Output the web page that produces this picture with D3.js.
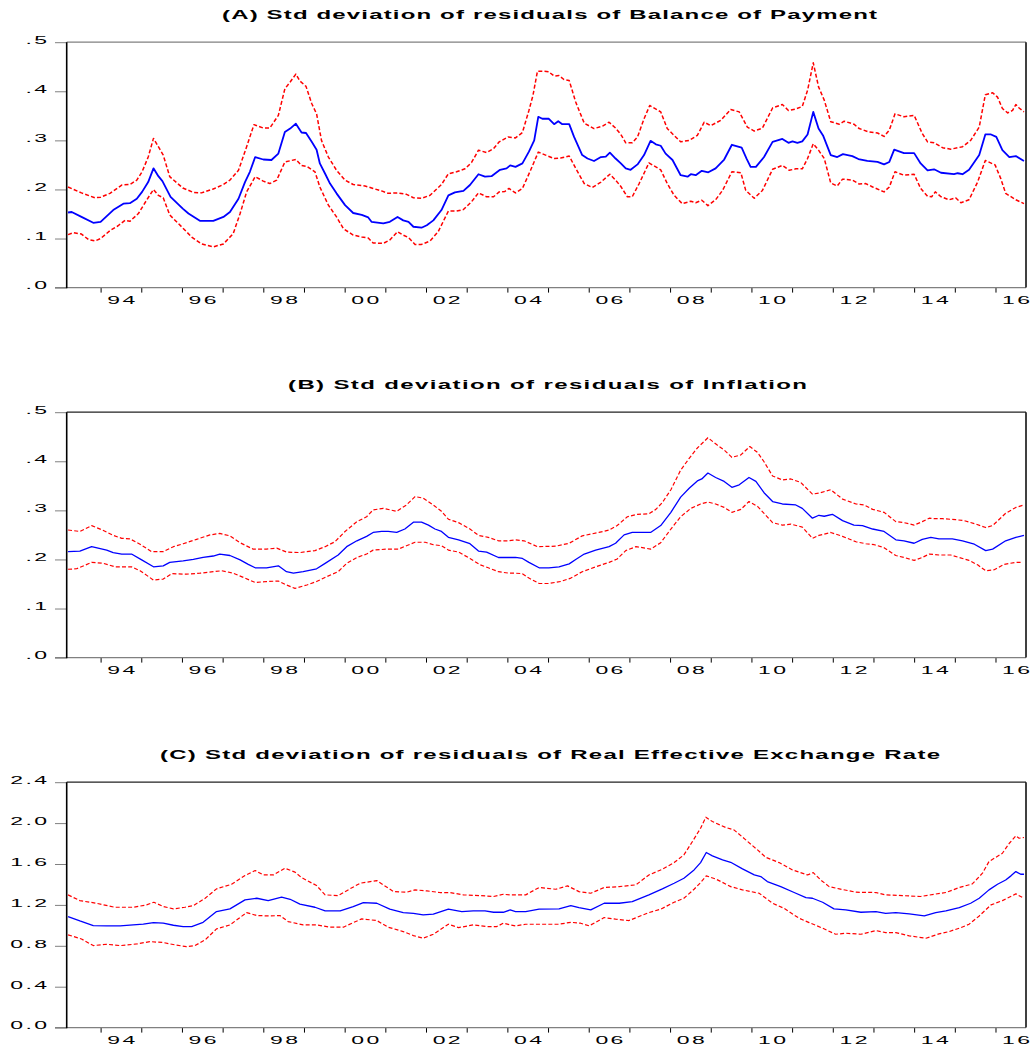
<!DOCTYPE html>
<html>
<head>
<meta charset="utf-8">
<script src="https://cdn.jsdelivr.net/npm/d3@7"></script>
<style>
  html, body { margin: 0; padding: 0; background: #fff; }
  svg { display: block; }
</style>
</head>
<body>
<svg id="chart" width="1031" height="1046"></svg>
<script>
// Monthly sample 1993M03 - 2016M09, observations as [decimal year, value]

// (A) Balance of Payment
const bopMid = [[1993.20,0.153],[1993.29,0.154],[1993.53,0.144],[1993.82,0.132],[1994.00,0.134],[1994.31,0.158],[1994.56,0.171],[1994.72,0.172],[1994.89,0.181],[1995.02,0.195],[1995.17,0.215],[1995.30,0.243],[1995.42,0.227],[1995.52,0.217],[1995.72,0.185],[1996.02,0.161],[1996.16,0.151],[1996.44,0.136],[1996.77,0.136],[1997.02,0.144],[1997.18,0.154],[1997.39,0.181],[1997.55,0.215],[1997.67,0.236],[1997.80,0.266],[1998.00,0.261],[1998.20,0.260],[1998.37,0.273],[1998.53,0.317],[1998.66,0.324],[1998.80,0.334],[1998.94,0.316],[1999.05,0.315],[1999.19,0.297],[1999.31,0.281],[1999.39,0.253],[1999.52,0.232],[1999.64,0.212],[1999.80,0.192],[2000.01,0.168],[2000.21,0.152],[2000.42,0.148],[2000.58,0.143],[2000.66,0.134],[2000.95,0.131],[2001.11,0.134],[2001.30,0.144],[2001.44,0.137],[2001.57,0.134],[2001.69,0.124],[2001.89,0.122],[2002.02,0.127],[2002.18,0.137],[2002.38,0.158],[2002.55,0.188],[2002.71,0.194],[2002.92,0.197],[2003.08,0.209],[2003.29,0.231],[2003.45,0.226],[2003.61,0.227],[2003.82,0.240],[2003.98,0.243],[2004.07,0.249],[2004.20,0.246],[2004.37,0.253],[2004.53,0.277],[2004.66,0.300],[2004.76,0.348],[2004.86,0.344],[2005.02,0.344],[2005.15,0.333],[2005.25,0.339],[2005.35,0.333],[2005.52,0.333],[2005.64,0.307],[2005.84,0.270],[2005.97,0.263],[2006.13,0.258],[2006.30,0.266],[2006.42,0.267],[2006.52,0.275],[2006.66,0.263],[2006.79,0.253],[2006.91,0.243],[2007.03,0.240],[2007.20,0.251],[2007.36,0.270],[2007.52,0.299],[2007.65,0.292],[2007.77,0.289],[2007.89,0.273],[2008.06,0.260],[2008.26,0.229],[2008.43,0.226],[2008.51,0.231],[2008.63,0.229],[2008.78,0.238],[2008.94,0.235],[2009.12,0.243],[2009.33,0.261],[2009.52,0.291],[2009.76,0.285],[2009.88,0.263],[2009.98,0.246],[2010.11,0.246],[2010.31,0.266],[2010.52,0.297],[2010.76,0.303],[2010.91,0.295],[2011.01,0.298],[2011.13,0.295],[2011.25,0.298],[2011.38,0.312],[2011.52,0.358],[2011.65,0.324],[2011.76,0.310],[2011.95,0.270],[2012.11,0.266],[2012.25,0.272],[2012.48,0.268],[2012.63,0.262],[2012.85,0.258],[2013.10,0.256],[2013.26,0.251],[2013.39,0.256],[2013.51,0.281],[2013.75,0.274],[2014.00,0.274],[2014.16,0.253],[2014.33,0.239],[2014.49,0.241],[2014.66,0.234],[2014.98,0.231],[2015.07,0.233],[2015.19,0.231],[2015.35,0.240],[2015.60,0.270],[2015.75,0.312],[2015.89,0.312],[2016.02,0.307],[2016.17,0.280],[2016.34,0.266],[2016.50,0.268],[2016.70,0.258]];
const bopUpper = [[1993.20,0.205],[1993.53,0.193],[1993.86,0.183],[1994.00,0.184],[1994.23,0.192],[1994.52,0.209],[1994.72,0.210],[1994.89,0.219],[1995.02,0.236],[1995.17,0.266],[1995.30,0.304],[1995.42,0.287],[1995.54,0.270],[1995.70,0.226],[1996.02,0.203],[1996.28,0.194],[1996.48,0.193],[1996.77,0.201],[1997.02,0.210],[1997.18,0.219],[1997.39,0.239],[1997.59,0.287],[1997.77,0.332],[1998.00,0.325],[1998.16,0.325],[1998.37,0.351],[1998.53,0.405],[1998.66,0.419],[1998.80,0.435],[1998.90,0.421],[1999.05,0.410],[1999.19,0.375],[1999.31,0.354],[1999.43,0.300],[1999.60,0.266],[1999.80,0.239],[2000.01,0.219],[2000.21,0.210],[2000.50,0.207],[2000.70,0.202],[2000.91,0.197],[2001.07,0.192],[2001.30,0.193],[2001.52,0.190],[2001.69,0.183],[2001.89,0.182],[2002.10,0.188],[2002.38,0.210],[2002.55,0.232],[2002.75,0.236],[2002.96,0.242],[2003.12,0.255],[2003.29,0.280],[2003.49,0.275],[2003.66,0.283],[2003.80,0.297],[2004.02,0.307],[2004.20,0.305],[2004.37,0.316],[2004.53,0.361],[2004.63,0.392],[2004.74,0.441],[2004.86,0.441],[2005.01,0.440],[2005.15,0.431],[2005.27,0.432],[2005.39,0.424],[2005.52,0.422],[2005.68,0.378],[2005.89,0.335],[2006.13,0.324],[2006.34,0.329],[2006.50,0.337],[2006.66,0.325],[2006.79,0.312],[2006.91,0.295],[2007.07,0.295],[2007.20,0.307],[2007.36,0.344],[2007.50,0.371],[2007.77,0.358],[2007.93,0.324],[2008.10,0.310],[2008.26,0.297],[2008.47,0.300],[2008.67,0.310],[2008.84,0.337],[2009.00,0.330],[2009.25,0.341],[2009.49,0.363],[2009.70,0.358],[2009.90,0.327],[2010.07,0.319],[2010.27,0.325],[2010.52,0.366],[2010.76,0.373],[2010.91,0.361],[2011.09,0.364],[2011.25,0.369],[2011.38,0.402],[2011.52,0.458],[2011.65,0.409],[2011.79,0.382],[2011.95,0.338],[2012.16,0.333],[2012.28,0.339],[2012.52,0.333],[2012.65,0.324],[2012.89,0.317],[2013.10,0.315],[2013.26,0.308],[2013.39,0.321],[2013.53,0.354],[2013.75,0.348],[2014.00,0.351],[2014.20,0.314],[2014.33,0.297],[2014.49,0.295],[2014.70,0.285],[2014.90,0.282],[2015.19,0.287],[2015.39,0.300],[2015.60,0.327],[2015.75,0.393],[2015.93,0.397],[2016.05,0.388],[2016.17,0.365],[2016.30,0.356],[2016.42,0.361],[2016.50,0.373],[2016.58,0.366],[2016.70,0.358]];
const bopLower = [[1993.20,0.108],[1993.33,0.112],[1993.53,0.109],[1993.70,0.098],[1993.86,0.095],[1994.00,0.100],[1994.23,0.116],[1994.43,0.126],[1994.60,0.137],[1994.72,0.135],[1994.93,0.151],[1995.13,0.178],[1995.30,0.200],[1995.42,0.188],[1995.54,0.183],[1995.70,0.148],[1995.99,0.124],[1996.24,0.103],[1996.48,0.089],[1996.77,0.083],[1997.02,0.089],[1997.26,0.110],[1997.43,0.151],[1997.59,0.195],[1997.80,0.226],[1998.00,0.217],[1998.16,0.212],[1998.33,0.219],[1998.53,0.256],[1998.80,0.261],[1998.94,0.249],[1999.07,0.247],[1999.27,0.236],[1999.39,0.205],[1999.60,0.168],[1999.80,0.144],[1999.97,0.120],[2000.21,0.107],[2000.42,0.103],[2000.58,0.101],[2000.70,0.091],[2000.95,0.090],[2001.11,0.097],[2001.30,0.114],[2001.44,0.107],[2001.57,0.102],[2001.73,0.088],[2001.89,0.088],[2002.10,0.095],[2002.30,0.114],[2002.55,0.156],[2002.75,0.156],[2002.92,0.159],[2003.12,0.175],[2003.29,0.193],[2003.49,0.185],[2003.66,0.185],[2003.80,0.195],[2003.94,0.196],[2004.04,0.202],[2004.20,0.193],[2004.37,0.202],[2004.57,0.239],[2004.76,0.276],[2004.94,0.270],[2005.15,0.263],[2005.31,0.264],[2005.52,0.268],[2005.68,0.243],[2005.89,0.212],[2006.09,0.204],[2006.30,0.215],[2006.52,0.231],[2006.66,0.219],[2006.79,0.206],[2006.95,0.185],[2007.07,0.185],[2007.24,0.212],[2007.48,0.254],[2007.77,0.240],[2007.93,0.212],[2008.10,0.188],[2008.30,0.171],[2008.51,0.176],[2008.63,0.173],[2008.78,0.178],[2008.93,0.167],[2009.12,0.179],[2009.29,0.198],[2009.52,0.236],[2009.74,0.234],[2009.86,0.198],[2010.07,0.182],[2010.27,0.198],[2010.52,0.241],[2010.76,0.249],[2010.93,0.239],[2011.09,0.242],[2011.25,0.242],[2011.38,0.263],[2011.52,0.293],[2011.65,0.280],[2011.79,0.263],[2011.95,0.213],[2012.11,0.207],[2012.24,0.221],[2012.48,0.219],[2012.65,0.211],[2012.81,0.212],[2012.98,0.205],[2013.26,0.195],[2013.39,0.205],[2013.53,0.236],[2013.75,0.229],[2014.00,0.231],[2014.16,0.202],[2014.33,0.186],[2014.43,0.185],[2014.52,0.195],[2014.66,0.185],[2014.86,0.179],[2015.02,0.183],[2015.15,0.173],[2015.35,0.179],[2015.56,0.215],[2015.75,0.259],[2015.99,0.250],[2016.13,0.222],[2016.25,0.192],[2016.50,0.179],[2016.70,0.171]];

// (B) Inflation
const infMid = [[1993.20,0.216],[1993.49,0.217],[1993.78,0.226],[1994.15,0.219],[1994.31,0.214],[1994.52,0.211],[1994.76,0.211],[1995.01,0.199],[1995.30,0.185],[1995.54,0.187],[1995.70,0.194],[1996.03,0.197],[1996.28,0.200],[1996.52,0.204],[1996.77,0.207],[1996.93,0.211],[1997.18,0.208],[1997.43,0.199],[1997.63,0.190],[1997.80,0.183],[1998.08,0.183],[1998.37,0.187],[1998.57,0.175],[1998.74,0.172],[1998.98,0.175],[1999.31,0.181],[1999.52,0.192],[1999.84,0.209],[2000.05,0.226],[2000.30,0.238],[2000.54,0.247],[2000.70,0.255],[2000.91,0.257],[2001.07,0.257],[2001.28,0.255],[2001.48,0.262],[2001.69,0.276],[2001.89,0.276],[2002.06,0.270],[2002.22,0.262],[2002.38,0.257],[2002.55,0.245],[2002.80,0.240],[2003.08,0.232],[2003.29,0.217],[2003.49,0.215],[2003.78,0.204],[2004.04,0.204],[2004.20,0.204],[2004.37,0.202],[2004.53,0.194],[2004.78,0.183],[2005.02,0.183],[2005.27,0.185],[2005.52,0.191],[2005.68,0.200],[2005.89,0.211],[2006.17,0.219],[2006.50,0.226],[2006.66,0.233],[2006.87,0.250],[2007.07,0.255],[2007.32,0.255],[2007.52,0.255],[2007.77,0.269],[2008.02,0.296],[2008.26,0.327],[2008.47,0.345],[2008.67,0.360],[2008.78,0.364],[2008.93,0.376],[2009.12,0.367],[2009.33,0.359],[2009.52,0.347],[2009.70,0.352],[2009.94,0.367],[2010.11,0.359],[2010.31,0.336],[2010.52,0.318],[2010.76,0.313],[2011.09,0.311],[2011.25,0.304],[2011.50,0.284],[2011.66,0.290],[2011.79,0.288],[2011.99,0.292],[2012.24,0.279],[2012.52,0.270],[2012.73,0.269],[2012.98,0.262],[2013.26,0.257],[2013.55,0.240],[2013.75,0.238],[2014.00,0.233],[2014.20,0.241],[2014.41,0.245],[2014.61,0.242],[2014.94,0.242],[2015.19,0.238],[2015.48,0.231],[2015.76,0.218],[2015.93,0.221],[2016.25,0.238],[2016.50,0.245],[2016.70,0.249]];
const infUpper = [[1993.20,0.260],[1993.49,0.257],[1993.78,0.269],[1994.07,0.259],[1994.31,0.249],[1994.52,0.243],[1994.72,0.242],[1994.97,0.231],[1995.25,0.216],[1995.54,0.216],[1995.79,0.226],[1996.03,0.232],[1996.36,0.241],[1996.69,0.250],[1996.93,0.253],[1997.18,0.248],[1997.43,0.234],[1997.75,0.221],[1998.08,0.221],[1998.33,0.223],[1998.57,0.215],[1998.90,0.214],[1999.27,0.218],[1999.52,0.226],[1999.76,0.236],[2000.01,0.257],[2000.30,0.277],[2000.54,0.287],[2000.70,0.301],[2000.95,0.304],[2001.28,0.298],[2001.52,0.311],[2001.73,0.328],[2001.93,0.325],[2002.18,0.311],[2002.38,0.298],[2002.55,0.282],[2002.80,0.275],[2003.08,0.262],[2003.29,0.249],[2003.53,0.245],[2003.78,0.238],[2004.04,0.238],[2004.20,0.240],[2004.41,0.238],[2004.74,0.226],[2005.19,0.227],[2005.52,0.233],[2005.84,0.248],[2006.25,0.255],[2006.50,0.260],[2006.70,0.269],[2006.95,0.287],[2007.20,0.292],[2007.48,0.293],[2007.65,0.302],[2007.81,0.316],[2008.02,0.342],[2008.26,0.382],[2008.47,0.406],[2008.67,0.427],[2008.93,0.448],[2009.16,0.433],[2009.33,0.423],[2009.52,0.408],[2009.74,0.413],[2009.96,0.430],[2010.15,0.418],[2010.31,0.399],[2010.52,0.370],[2010.76,0.362],[2010.97,0.364],[2011.21,0.357],[2011.50,0.333],[2011.70,0.336],[2011.95,0.342],[2012.24,0.323],[2012.57,0.313],[2012.77,0.311],[2012.98,0.302],[2013.26,0.296],[2013.55,0.277],[2013.75,0.275],[2014.00,0.270],[2014.20,0.277],[2014.37,0.284],[2014.53,0.283],[2014.70,0.283],[2015.02,0.281],[2015.23,0.279],[2015.52,0.272],[2015.76,0.265],[2015.93,0.269],[2016.25,0.294],[2016.50,0.306],[2016.70,0.311]];
const infLower = [[1993.20,0.180],[1993.41,0.181],[1993.78,0.194],[1994.07,0.192],[1994.35,0.185],[1994.76,0.185],[1994.97,0.177],[1995.30,0.158],[1995.54,0.160],[1995.75,0.171],[1996.11,0.170],[1996.44,0.172],[1996.77,0.175],[1996.98,0.177],[1997.26,0.172],[1997.55,0.162],[1997.80,0.153],[1998.08,0.155],[1998.37,0.156],[1998.57,0.148],[1998.78,0.141],[1999.07,0.148],[1999.31,0.155],[1999.56,0.165],[1999.84,0.175],[2000.05,0.192],[2000.30,0.204],[2000.54,0.211],[2000.70,0.219],[2001.03,0.221],[2001.32,0.221],[2001.52,0.228],[2001.73,0.235],[2001.98,0.235],[2002.18,0.230],[2002.38,0.228],[2002.55,0.219],[2002.80,0.215],[2003.08,0.202],[2003.33,0.189],[2003.53,0.183],[2003.78,0.175],[2004.04,0.172],[2004.20,0.172],[2004.37,0.171],[2004.53,0.162],[2004.78,0.151],[2005.02,0.151],[2005.31,0.155],[2005.56,0.162],[2005.84,0.175],[2006.17,0.185],[2006.50,0.194],[2006.70,0.201],[2006.91,0.218],[2007.16,0.226],[2007.32,0.224],[2007.52,0.221],[2007.77,0.234],[2008.02,0.262],[2008.26,0.287],[2008.51,0.304],[2008.75,0.313],[2008.93,0.317],[2009.12,0.313],[2009.33,0.306],[2009.52,0.296],[2009.74,0.302],[2009.94,0.318],[2010.15,0.308],[2010.31,0.294],[2010.52,0.275],[2010.76,0.270],[2010.97,0.272],[2011.25,0.266],[2011.50,0.243],[2011.66,0.249],[2011.95,0.255],[2012.24,0.247],[2012.57,0.236],[2012.81,0.232],[2013.02,0.230],[2013.26,0.224],[2013.55,0.208],[2013.75,0.204],[2014.00,0.198],[2014.20,0.204],[2014.37,0.211],[2014.61,0.209],[2014.90,0.209],[2015.11,0.204],[2015.35,0.198],[2015.56,0.189],[2015.76,0.177],[2015.97,0.179],[2016.21,0.190],[2016.50,0.194],[2016.66,0.194]];

// (C) Real Effective Exchange Rate
const reerMid = [[1993.20,1.086],[1993.49,1.043],[1993.82,0.998],[1994.15,0.995],[1994.48,0.995],[1994.80,1.004],[1995.05,1.011],[1995.30,1.027],[1995.54,1.021],[1995.79,1.001],[1996.03,0.988],[1996.24,0.988],[1996.52,1.030],[1996.85,1.135],[1997.18,1.161],[1997.55,1.249],[1997.84,1.265],[1998.12,1.242],[1998.45,1.275],[1998.66,1.255],[1998.90,1.207],[1999.27,1.177],[1999.52,1.141],[1999.89,1.141],[2000.21,1.184],[2000.46,1.223],[2000.79,1.216],[2001.11,1.158],[2001.44,1.125],[2001.69,1.118],[2001.93,1.102],[2002.18,1.109],[2002.55,1.158],[2002.88,1.135],[2003.16,1.141],[2003.45,1.141],[2003.66,1.128],[2003.90,1.128],[2004.07,1.151],[2004.20,1.135],[2004.45,1.135],[2004.78,1.158],[2005.27,1.161],[2005.56,1.193],[2005.76,1.174],[2006.05,1.151],[2006.38,1.216],[2006.75,1.216],[2007.07,1.233],[2007.48,1.298],[2007.81,1.357],[2008.10,1.412],[2008.34,1.461],[2008.59,1.542],[2008.75,1.614],[2008.89,1.712],[2009.04,1.679],[2009.29,1.640],[2009.49,1.617],[2009.78,1.552],[2010.07,1.493],[2010.23,1.477],[2010.39,1.428],[2010.72,1.379],[2011.05,1.321],[2011.34,1.272],[2011.50,1.265],[2011.75,1.226],[2012.03,1.161],[2012.32,1.151],[2012.69,1.128],[2013.06,1.135],[2013.30,1.118],[2013.55,1.125],[2013.88,1.112],[2014.25,1.092],[2014.53,1.125],[2014.78,1.141],[2015.11,1.174],[2015.39,1.216],[2015.60,1.265],[2015.84,1.347],[2016.05,1.402],[2016.25,1.444],[2016.38,1.484],[2016.50,1.526],[2016.62,1.500],[2016.70,1.500]];
const reerUpper = [[1993.20,1.298],[1993.49,1.242],[1993.90,1.216],[1994.35,1.177],[1994.80,1.177],[1995.13,1.200],[1995.31,1.226],[1995.54,1.184],[1995.79,1.161],[1996.07,1.177],[1996.28,1.193],[1996.57,1.265],[1996.85,1.357],[1997.22,1.402],[1997.55,1.487],[1997.80,1.536],[1998.00,1.493],[1998.25,1.493],[1998.53,1.559],[1998.78,1.520],[1998.94,1.467],[1999.31,1.389],[1999.52,1.298],[1999.84,1.291],[2000.13,1.357],[2000.38,1.412],[2000.79,1.438],[2000.95,1.396],[2001.20,1.330],[2001.52,1.324],[2001.73,1.347],[2002.02,1.337],[2002.34,1.321],[2002.59,1.321],[2002.92,1.298],[2003.33,1.291],[2003.66,1.282],[2003.90,1.304],[2004.07,1.298],[2004.20,1.298],[2004.45,1.298],[2004.78,1.370],[2005.19,1.353],[2005.48,1.386],[2005.76,1.330],[2006.05,1.314],[2006.38,1.370],[2006.75,1.379],[2007.16,1.396],[2007.48,1.493],[2007.81,1.549],[2008.10,1.614],[2008.34,1.689],[2008.55,1.820],[2008.75,1.950],[2008.88,2.058],[2009.04,2.015],[2009.37,1.957],[2009.57,1.934],[2009.86,1.836],[2010.15,1.738],[2010.35,1.666],[2010.68,1.614],[2011.01,1.542],[2011.38,1.493],[2011.52,1.516],[2011.70,1.445],[2011.91,1.379],[2012.16,1.357],[2012.57,1.324],[2013.06,1.321],[2013.30,1.298],[2013.71,1.291],[2014.16,1.282],[2014.49,1.304],[2014.78,1.321],[2015.11,1.370],[2015.43,1.405],[2015.68,1.510],[2015.84,1.624],[2016.17,1.705],[2016.34,1.803],[2016.50,1.875],[2016.58,1.852],[2016.70,1.859]];
const reerLower = [[1993.20,0.907],[1993.53,0.867],[1993.82,0.802],[1994.15,0.815],[1994.48,0.802],[1994.89,0.818],[1995.21,0.841],[1995.54,0.832],[1995.83,0.809],[1996.11,0.792],[1996.32,0.802],[1996.57,0.858],[1996.85,0.965],[1997.18,1.004],[1997.59,1.125],[1997.84,1.096],[1998.16,1.092],[1998.41,1.096],[1998.61,1.037],[1998.98,1.004],[1999.31,1.004],[1999.64,0.982],[1999.97,0.982],[2000.21,1.027],[2000.42,1.063],[2000.79,1.047],[2001.07,0.982],[2001.44,0.939],[2001.69,0.900],[2001.93,0.874],[2002.18,0.913],[2002.55,1.011],[2002.80,0.978],[2003.16,1.004],[2003.49,0.988],[2003.74,0.988],[2003.90,1.021],[2004.07,1.004],[2004.20,0.995],[2004.45,1.011],[2004.86,1.011],[2005.27,1.011],[2005.56,1.030],[2005.80,1.021],[2006.01,0.995],[2006.38,1.076],[2006.66,1.060],[2006.99,1.047],[2007.48,1.125],[2007.77,1.158],[2008.10,1.226],[2008.34,1.265],[2008.59,1.353],[2008.75,1.418],[2008.89,1.484],[2009.12,1.454],[2009.49,1.379],[2009.78,1.347],[2010.19,1.314],[2010.52,1.216],[2010.80,1.167],[2011.17,1.070],[2011.42,1.027],[2011.75,0.972],[2012.07,0.913],[2012.32,0.923],[2012.69,0.913],[2013.06,0.949],[2013.30,0.929],[2013.55,0.929],[2013.88,0.897],[2014.29,0.874],[2014.61,0.916],[2014.86,0.939],[2015.15,0.978],[2015.35,1.011],[2015.60,1.092],[2015.89,1.200],[2016.17,1.242],[2016.50,1.308],[2016.62,1.282],[2016.70,1.265]];

// Axis labels
const yTicksSmall = [0, 0.1, 0.2, 0.3, 0.4, 0.5];
const yLabelsSmall = [".0", ".1", ".2", ".3", ".4", ".5"];
const yTicksReer = [0, 0.4, 0.8, 1.2, 1.6, 2.0, 2.4];
const yLabelsReer = ["0.0", "0.4", "0.8", "1.2", "1.6", "2.0", "2.4"];
const yearTicks = d3.range(1994, 2017);
const yearLabels = ["94", "96", "98", "00", "02", "04", "06", "08", "10", "12", "14", "16"];
const labelYears = [1994, 1996, 1998, 2000, 2002, 2004, 2006, 2008, 2010, 2012, 2014, 2016];

const panels = [
  { title: "(A) Std deviation of residuals of Balance of Payment", titleX: 549.5, titleW: 655,
    offset: 0, yMax: 0.5, ticks: yTicksSmall, labels: yLabelsSmall,
    mid: bopMid, upper: bopUpper, lower: bopLower, midW: 1.8, bandW: 1.5, topColor: "#808080" },
  { title: "(B) Std deviation of residuals of Inflation", titleX: 547.5, titleW: 519,
    offset: 370, yMax: 0.5, ticks: yTicksSmall, labels: yLabelsSmall,
    mid: infMid, upper: infUpper, lower: infLower, midW: 1.3, bandW: 1.2, topColor: "#222" },
  { title: "(C) Std deviation of residuals of Real Effective Exchange Rate", titleX: 550, titleW: 780,
    offset: 740, yMax: 2.4, ticks: yTicksReer, labels: yLabelsReer,
    mid: reerMid, upper: reerUpper, lower: reerLower, midW: 1.3, bandW: 1.2, topColor: "#222" }
];

const FONT = "'Liberation Sans', Arial, Helvetica, sans-serif";
const SX = 2;                       // wide glyphs
const left = 66.7, right = 1026;
const plotTop = 42.2, plotBottom = 287.6;
const svgW = 1031;

const svg = d3.select("#chart");

const x = d3.scaleLinear().domain([1993 + 2 / 12, 2016 + 9 / 12]).range([left, right]);

panels.forEach(p => {
  const g = svg.append("g").attr("transform", `translate(0,${p.offset})`);
  const y = d3.scaleLinear().domain([0, p.yMax]).range([plotBottom, plotTop]);

  // title
  g.append("text")
    .attr("transform", `translate(${p.titleX},19.3) scale(${SX},1)`)
    .attr("text-anchor", "middle")
    .attr("textLength", p.titleW / SX)
    .attr("lengthAdjust", "spacing")
    .style("font-family", FONT)
    .style("font-size", "12px")
    .style("font-weight", "bold")
    .attr("fill", "#000")
    .text(p.title);

  // y axis ticks and labels
  const yAxis = d3.axisLeft(y)
    .tickValues(p.ticks)
    .tickSize(11.7)
    .tickFormat((d, i) => p.labels[i]);
  const ya = g.append("g").attr("transform", `translate(${left},0)`).call(yAxis);
  ya.select(".domain").remove();
  ya.selectAll(".tick line").attr("stroke", "#808080").attr("stroke-width", 1);
  ya.selectAll(".tick text")
    .attr("x", null).attr("dy", null)
    .attr("transform", `translate(-17.2,1.3) scale(${SX},1)`)
    .attr("text-anchor", "end")
    .style("font-family", FONT)
    .style("font-size", "11.5px")
    .style("letter-spacing", "1.2px")
    .attr("fill", "#000");

  // x axis: year ticks
  const xAxis = d3.axisBottom(x).tickValues(yearTicks).tickSize(5).tickFormat("");
  const xa = g.append("g").attr("transform", `translate(0,${plotBottom})`).call(xAxis);
  xa.select(".domain").remove();
  xa.selectAll(".tick line").attr("stroke", "#000").attr("stroke-width", 1);

  // x axis: labels centred in each labelled year
  const xLab = d3.axisBottom(x)
    .tickValues(labelYears.map(v => v + 0.5))
    .tickSize(0)
    .tickFormat((d, i) => yearLabels[i]);
  const xl = g.append("g").attr("transform", `translate(0,${plotBottom})`).call(xLab);
  xl.select(".domain").remove();
  xl.selectAll(".tick text")
    .attr("y", null).attr("dy", null)
    .attr("transform", `translate(1,15.9) scale(${SX},1)`)
    .attr("text-anchor", "middle")
    .style("font-family", FONT)
    .style("font-size", "11.5px")
    .style("letter-spacing", "1.2px")
    .attr("fill", "#000");
  // keep the last label inside the page edge
  xl.selectAll(".tick text").filter((d, i) => i === labelYears.length - 1)
    .attr("text-anchor", "end")
    .attr("transform", d => `translate(${svgW - 1.5 - x(d) + 2.4},15.9) scale(${SX},1)`);

  // frame
  g.append("line").attr("x1", left).attr("x2", right).attr("y1", plotTop).attr("y2", plotTop)
    .attr("stroke", p.topColor).attr("stroke-width", 1.3);
  g.append("line").attr("x1", 55).attr("x2", right).attr("y1", plotBottom).attr("y2", plotBottom)
    .attr("stroke", "#808080").attr("stroke-width", 1.3);
  g.append("line").attr("x1", right).attr("x2", right).attr("y1", plotTop).attr("y2", plotBottom)
    .attr("stroke", "#000").attr("stroke-width", 1.5);
  g.append("line").attr("x1", left).attr("x2", left).attr("y1", plotTop).attr("y2", plotBottom + 0.6)
    .attr("stroke", "#000").attr("stroke-width", 1.6);

  // series
  const line = d3.line().x(d => x(d[0])).y(d => y(d[1]));
  [p.upper, p.lower].forEach(s => {
    g.append("path").datum(s).attr("d", line)
      .attr("fill", "none").attr("stroke", "#ff0000")
      .attr("stroke-width", p.bandW).attr("stroke-dasharray", "4,2.2")
      .attr("stroke-linejoin", "round");
  });
  g.append("path").datum(p.mid).attr("d", line)
    .attr("fill", "none").attr("stroke", "#0000ff")
    .attr("stroke-width", p.midW).attr("stroke-linejoin", "round");
});
</script>
</body>
</html>
